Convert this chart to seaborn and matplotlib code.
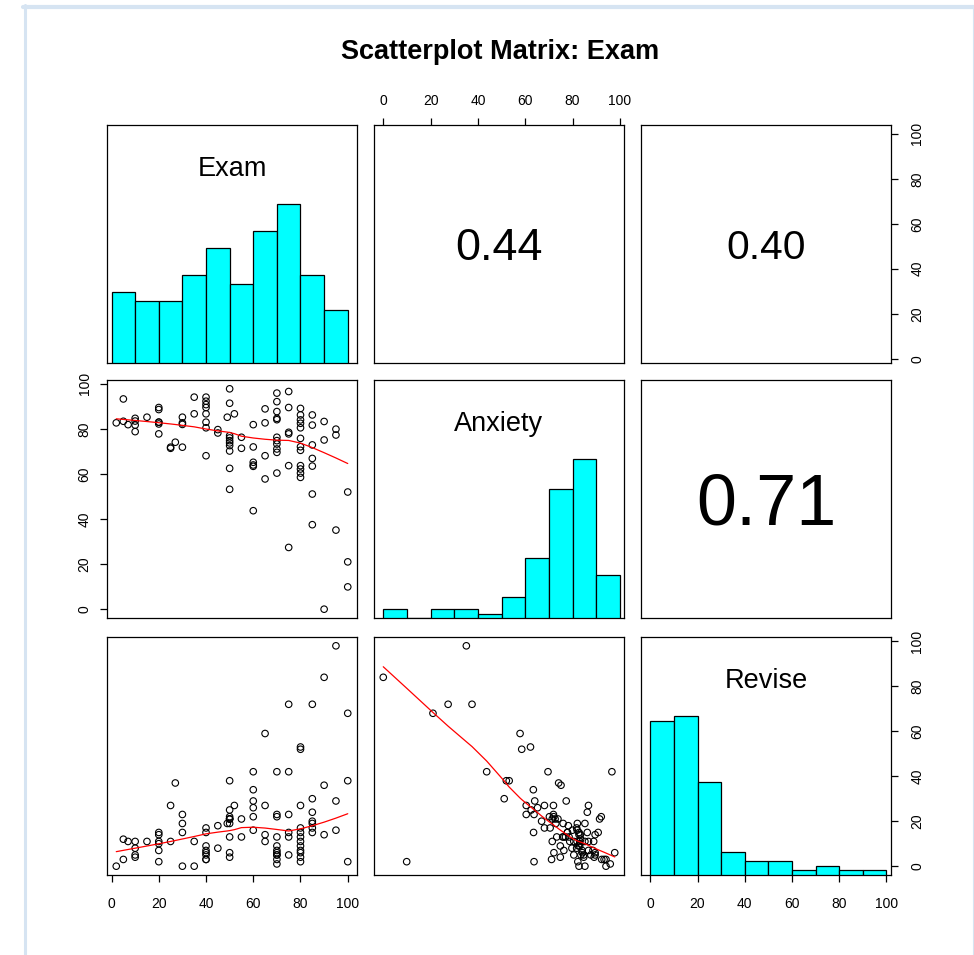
import numpy as np
import pandas as pd
import matplotlib
matplotlib.use('Agg')
import matplotlib.pyplot as plt
import seaborn as sns
from matplotlib.lines import Line2D

# datos (Exam, Anxiety, Revise por alumno)
exam = [2, 5, 5, 7, 10, 10, 10, 10, 15,
        20, 20, 20, 20, 20, 20, 25, 25, 27, 30, 30, 30, 30, 35, 35,
        40, 40, 40, 40, 40, 40, 40, 40, 45, 45, 49,
        50, 50, 50, 50, 50, 50, 50, 50, 50, 50, 52, 55, 55,
        60, 60, 60, 60, 60, 60, 65, 65, 65, 65,
        70, 70, 70, 70, 70, 70, 70, 70, 70, 70, 70,
        75, 75, 75, 75, 75, 75,
        80, 80, 80, 80, 80, 80, 80, 80, 80, 80, 80, 80,
        85, 85, 85, 85, 85, 85, 85, 90, 90, 90, 95, 95, 95, 100, 100, 100]
anxiety = [82.7, 93.3, 83.4, 81.9, 84.7, 83.5, 81.7, 78.8, 85.2,
           89.5, 88.6, 83.0, 83.0, 82.2, 77.8, 71.9, 71.4, 74.1, 85.2, 82.7, 82.0, 71.9, 94.1, 86.7,
           94.1, 92.3, 90.8, 89.5, 86.7, 83.0, 80.5, 68.1, 79.7, 78.2, 85.2,
           97.8, 53.2, 91.4, 77.0, 76.0, 74.8, 73.8, 72.6, 70.2, 62.5, 86.7, 76.3, 71.4,
           43.7, 81.9, 72.0, 65.2, 64.0, 63.4, 57.8, 88.9, 82.7, 68.1,
           69.6, 95.9, 92.1, 87.7, 84.7, 84.1, 76.3, 74.8, 73.3, 71.1, 60.4,
           27.4, 96.6, 89.5, 78.5, 77.8, 63.7,
           58.5, 62.2, 63.7, 89.1, 86.2, 84.0, 82.5, 80.5, 75.8, 72.1, 70.5, 60.4,
           37.5, 51.1, 86.2, 81.7, 72.9, 66.9, 63.5, 0.0, 83.3, 75.1, 35.1, 79.9, 77.3, 21.0, 52.0, 9.9]
revise = [0, 3, 12, 11, 4, 5, 8, 11, 11,
          14, 7, 10, 11, 2, 15, 27, 11, 37, 0, 15, 19, 23, 0, 11,
          3, 3, 15, 6, 7, 9, 5, 17, 8, 18, 19,
          6, 38, 21, 13, 19, 4, 21, 21, 22, 25, 27, 13, 21,
          42, 16, 22, 26, 29, 34, 59, 11, 14, 27,
          42, 1, 22, 5, 5, 6, 7, 9, 13, 3, 23,
          72, 42, 5, 13, 15, 23,
          52, 53, 2, 4, 15, 7, 9, 11, 13, 6, 17, 27,
          72, 30, 24, 17, 19, 20, 15, 84, 14, 36, 98, 16, 29, 68, 38, 2]

nombres = ['Exam', 'Anxiety', 'Revise']
datos = pd.DataFrame({'Exam': exam, 'Anxiety': anxiety, 'Revise': revise})


def lowess(x, y, f=2/3, iters=3):
    # suavizado tipo lowess de R (sin el atajo delta)
    orden = np.argsort(x, kind='stable')
    x = np.asarray(x, float)[orden]
    y = np.asarray(y, float)[orden]
    n = len(x)
    ns = max(2, min(n, int(f * n + 1e-7)))
    rw = np.ones(n)
    fit = np.zeros(n)
    for it in range(iters + 1):
        for i in range(n):
            d = np.abs(x - x[i])
            h = max(np.sort(d)[ns - 1], 1e-12)
            u = d / h
            w = np.where(u <= 0.999, (1 - np.clip(u, 0, 1) ** 3) ** 3, 0.0)
            w[u <= 0.001] = 1.0
            w = w * rw
            xm = np.sum(w * x) / np.sum(w)
            ym = np.sum(w * y) / np.sum(w)
            sxx = np.sum(w * (x - xm) ** 2)
            b = np.sum(w * (x - xm) * (y - ym)) / sxx if sxx > 1e-9 else 0.0
            fit[i] = ym + b * (x[i] - xm)
        if it == iters:
            break
        res = y - fit
        cmad = 6 * np.median(np.abs(res))
        if cmad == 0:
            break
        u = np.abs(res) / cmad
        rw = np.where(u <= 0.999, (1 - u ** 2) ** 2, 0.0)
        rw[u <= 0.001] = 1.0
    return x, fit


def rango(col):
    lo, hi = datos[col].min(), datos[col].max()
    pad = 0.04 * (hi - lo)
    return lo - pad, hi + pad


sns.set_style('white')
plt.rcParams['font.family'] = ['Liberation Sans', 'DejaVu Sans']
plt.rcParams['text.color'] = 'black'
plt.rcParams['xtick.color'] = 'black'
plt.rcParams['ytick.color'] = 'black'

W, H = 974, 955
fig = plt.figure(figsize=(W / 100, H / 100), dpi=100)

col_x = [107, 374, 641]
fila_y = [125, 380, 637]
ancho, alto = 250, 238
ticks = [0, 20, 40, 60, 80, 100]
bins = np.r_[0, np.arange(10, 101, 10) + 1e-6]  # intervalos cerrados a la derecha como en R


def base_centrada(yc, tam):
    # posicion de la linea base para que los digitos/mayusculas queden centrados en yc
    return yc - 0.358 * tam * (100 / 72) / alto


axes = [[None] * 3 for _ in range(3)]
for i in range(3):
    for j in range(3):
        ax = fig.add_axes([col_x[j] / W, 1 - (fila_y[i] + alto) / H, ancho / W, alto / H])
        for s in ax.spines.values():
            s.set_color('black')
            s.set_linewidth(0.9)
        ax.set_xlim(rango(nombres[j]))
        ax.set_ylim(rango(nombres[i]))
        ax.set_xticks([])
        ax.set_yticks([])
        axes[i][j] = ax

        if i == j:
            # histograma en la diagonal
            axh = ax.twinx()
            axh.set_xlim(rango(nombres[j]))
            sns.histplot(x=datos[nombres[j]], bins=bins, ax=axh, color='#00FFFF',
                         edgecolor='black', linewidth=0.9, alpha=1, stat='count')
            alto_max = max(p.get_height() for p in axh.patches)
            axh.set_ylim(0, 1.5 * alto_max)
            axh.set_yticks([])
            axh.set_ylabel('')
            axh.set_xlabel('')
            for s in axh.spines.values():
                s.set_visible(False)
            ax.text(0.5, base_centrada(0.825, 19.5), nombres[i], transform=ax.transAxes,
                    ha='center', va='baseline', fontsize=19.5, color='black')
        elif i > j:
            # dispersion con linea suavizada
            sns.scatterplot(x=datos[nombres[j]], y=datos[nombres[i]], ax=ax, s=22,
                            marker='o', facecolor='none', edgecolor='black', linewidth=0.8)
            xs, ys = lowess(datos[nombres[j]].values, datos[nombres[i]].values)
            sns.lineplot(x=xs, y=ys, ax=ax, color='red', linewidth=0.9,
                         sort=False, estimator=None)
            ax.set_xlabel('')
            ax.set_ylabel('')
        else:
            # correlacion absoluta, tamano proporcional
            r = abs(np.corrcoef(datos[nombres[i]], datos[nombres[j]])[0, 1])
            tam = 73 * r
            ax.text(0.5, base_centrada(0.5, tam), f'{r:.2f}', transform=ax.transAxes,
                    ha='center', va='baseline', fontsize=tam, color='black')

        ax.set_xlim(rango(nombres[j]))
        ax.set_ylim(rango(nombres[i]))


def ejes_x(ax, arriba=False, pad=8):
    ax.set_xticks(ticks)
    ax.set_xticklabels([str(t) for t in ticks])
    if arriba:
        ax.xaxis.tick_top()
    ax.tick_params(axis='x', direction='out', length=5, width=0.9, labelsize=10,
                   pad=pad, colors='black', bottom=not arriba, top=arriba,
                   labelbottom=not arriba, labeltop=arriba)


def ejes_y(ax, derecha=False, pad=8):
    ax.set_yticks(ticks)
    ax.set_yticklabels([str(t) for t in ticks])
    if derecha:
        ax.yaxis.tick_right()
    ax.tick_params(axis='y', direction='out', length=5, width=0.9, labelsize=10,
                   pad=pad, colors='black', left=not derecha, right=derecha,
                   labelleft=not derecha, labelright=derecha, labelrotation=90)
    for lbl in ax.get_yticklabels():
        lbl.set_va('center')


ejes_x(axes[0][1], arriba=True, pad=7)
ejes_y(axes[0][2], derecha=True, pad=9)
ejes_y(axes[1][0], derecha=False, pad=6)
ejes_x(axes[2][0], pad=11)
ejes_x(axes[2][2], pad=11)

# eje derecho de Revise sobre el histograma
ax_rev = axes[2][2].twinx()
ax_rev.set_ylim(rango('Revise'))
for s in ax_rev.spines.values():
    s.set_visible(False)
ejes_y(ax_rev, derecha=True, pad=9)

fig.text(500 / W, 1 - 52 / H, 'Scatterplot Matrix: Exam', ha='center', va='center',
         fontsize=19.5, fontweight='bold', color='black')

# marco azul claro de la pagina
azul = '#D6E4F2'
fig.add_artist(Line2D([23 / W, 1], [1 - 7 / H, 1 - 7 / H], color=azul, lw=3, transform=fig.transFigure))
fig.add_artist(Line2D([24.5 / W, 24.5 / W], [0, 1 - 5 / H], color=azul, lw=2.2, transform=fig.transFigure))
fig.add_artist(Line2D([972.5 / W, 972.5 / W], [0, 1 - 7 / H], color=azul, lw=0.8, transform=fig.transFigure))

fig.savefig('out.png', dpi=100, facecolor='white')
